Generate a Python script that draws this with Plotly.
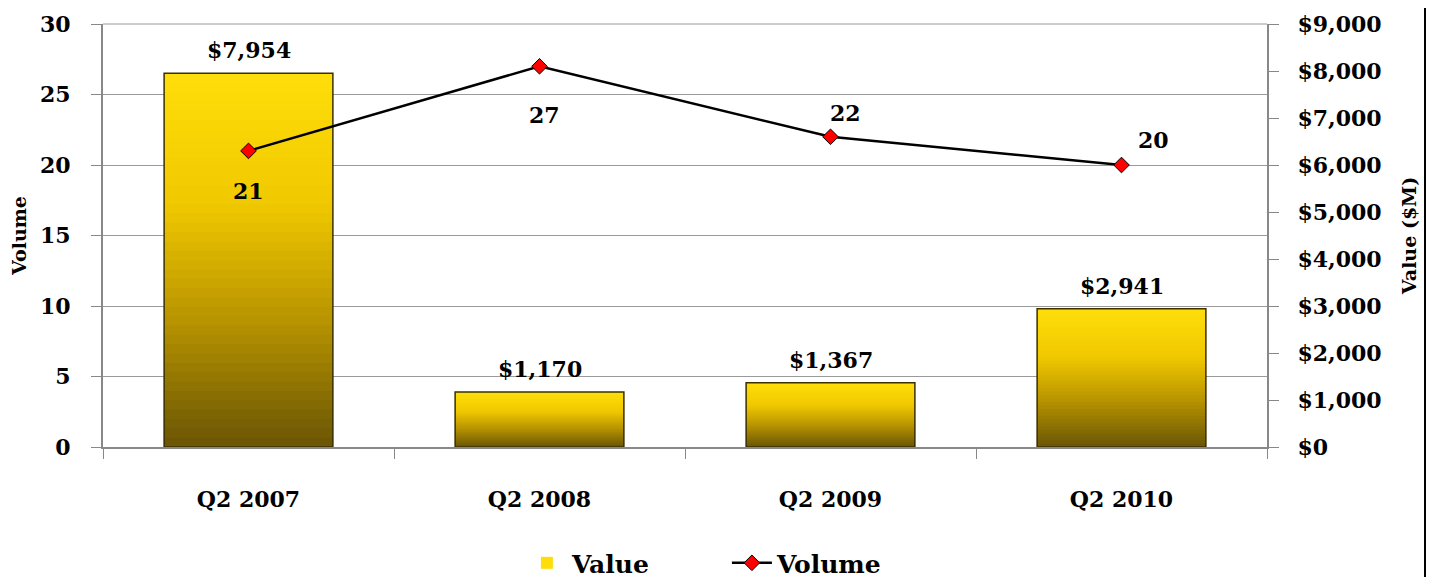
import plotly.graph_objects as go
import numpy as np

categories = ["Q2 2007", "Q2 2008", "Q2 2009", "Q2 2010"]
value_musd = [7954, 1170, 1367, 2941]
volume = [21, 27, 22, 20]
value_labels = ["$7,954", "$1,170", "$1,367", "$2,941"]
value_ticks = [0, 1000, 2000, 3000, 4000, 5000, 6000, 7000, 8000, 9000]
value_ticktext = ["$0", "$1,000", "$2,000", "$3,000", "$4,000", "$5,000",
                  "$6,000", "$7,000", "$8,000", "$9,000"]
volume_ticks = [0, 5, 10, 15, 20, 25, 30]

FONT = "DejaVu Serif"
TXT = dict(family=FONT, size=22, color="black", weight="bold")
TITLE = dict(family=FONT, size=19, color="black", weight="bold")

# vertical gradient for bars (top -> bottom)
stops = [(0.0, (255, 222, 10)), (0.35, (240, 200, 0)), (0.65, (186, 150, 0)),
         (1.0, (106, 85, 5))]

def grad(t):
    for (t0, c0), (t1, c1) in zip(stops[:-1], stops[1:]):
        if t0 <= t <= t1:
            f = (t - t0) / (t1 - t0)
            c = [round(a + (b - a) * f) for a, b in zip(c0, c1)]
            return "rgb(%d,%d,%d)" % tuple(c)
    return "rgb(%d,%d,%d)" % stops[-1][1]

fig = go.Figure()
N = 40
BW = 0.58
vals = np.array(value_musd, dtype=float)
for k in range(N):
    fig.add_trace(go.Bar(
        x=categories, y=vals * (1 - k / N), width=BW,
        marker=dict(color=grad((k + 0.5) / N), line=dict(width=0)),
        yaxis="y", showlegend=(k == 0), name="Value",
        legendgroup="value", hoverinfo="skip"))
# outline
fig.add_trace(go.Bar(
    x=categories, y=value_musd, width=BW,
    marker=dict(color="rgba(0,0,0,0)", line=dict(width=1.5, color="#3a3000")),
    yaxis="y", showlegend=False, legendgroup="value"))

fig.add_trace(go.Scatter(
    x=categories, y=volume, yaxis="y2", name="Volume",
    mode="lines+markers",
    line=dict(color="black", width=2.5),
    marker=dict(symbol="diamond", size=12, color="#FF0000",
                line=dict(color="black", width=1))))

annotations = []
for c, v, lab in zip(categories, value_musd, value_labels):
    annotations.append(dict(x=c, y=v, xref="x", yref="y", text=lab,
                            showarrow=False, yanchor="bottom", yshift=8,
                            font=TXT))
vol_shift = [(0, -40), (5, -49), (15, 24), (32, 25)]
for c, v, (dx, dy) in zip(categories, volume, vol_shift):
    annotations.append(dict(x=c, y=v, xref="x", yref="y2", text=str(v),
                            showarrow=False, xshift=dx, yshift=dy, font=TXT))

# page has an 8px body margin: compensate so the plot area lands where the
# reference has it (x 103..1267, y 24..447)
fig.update_layout(
    width=1434, height=577,
    margin=dict(l=95, r=175, t=16, b=138),
    paper_bgcolor="white", plot_bgcolor="white",
    barmode="overlay",
    font=dict(family=FONT, color="black"),
    xaxis=dict(type="category", tickson="boundaries", ticks="outside",
               ticklen=10, tickcolor="#888888", showline=True,
               linecolor="#888888", linewidth=2, showgrid=False,
               tickfont=TXT, ticklabelstandoff=32, range=[-0.5, 3.5],
               automargin=False),
    yaxis=dict(side="right", range=[0, 9000], tickvals=value_ticks,
               ticktext=value_ticktext, ticks="outside", ticklen=10,
               tickcolor="#888888", showline=True, linecolor="#888888",
               linewidth=2, tickfont=TXT, ticklabelstandoff=14,
               showgrid=False, zeroline=False, automargin=False,
               minor=dict(tick0=0, dtick=1500, showgrid=True,
                          gridcolor="#9a9a9a", gridwidth=1, ticklen=0),
               title=dict(text="Value ($M)", font=TITLE, standoff=22)),
    yaxis2=dict(side="left", overlaying="y", range=[0, 30],
                tickvals=volume_ticks, ticks="outside", ticklen=10,
                tickcolor="#888888", showline=True, linecolor="#888888",
                linewidth=2, tickfont=TXT, ticklabelstandoff=16,
                showgrid=False, zeroline=False, automargin=False,
                title=dict(text="Volume", font=TITLE, standoff=12)),
    legend=dict(orientation="h", x=0.536, xanchor="center",
                yref="container", y=0.038, yanchor="middle",
                font=dict(family=FONT, size=25, color="black", weight="bold"),
                itemwidth=40, entrywidth=150, traceorder="normal"),
    annotations=annotations,
    shapes=[
        dict(type="line", xref="paper", yref="paper", x0=0, x1=1, y0=1, y1=1,
             line=dict(color="#9a9a9a", width=1), layer="below"),
        dict(type="rect", xref="paper", yref="paper",
             x0=(1416 - 95) / 1164, x1=(1450 - 95) / 1164,
             y0=-1, y1=2, fillcolor="black", line=dict(width=0),
             layer="above")],
)
fig.write_html("out.html")
